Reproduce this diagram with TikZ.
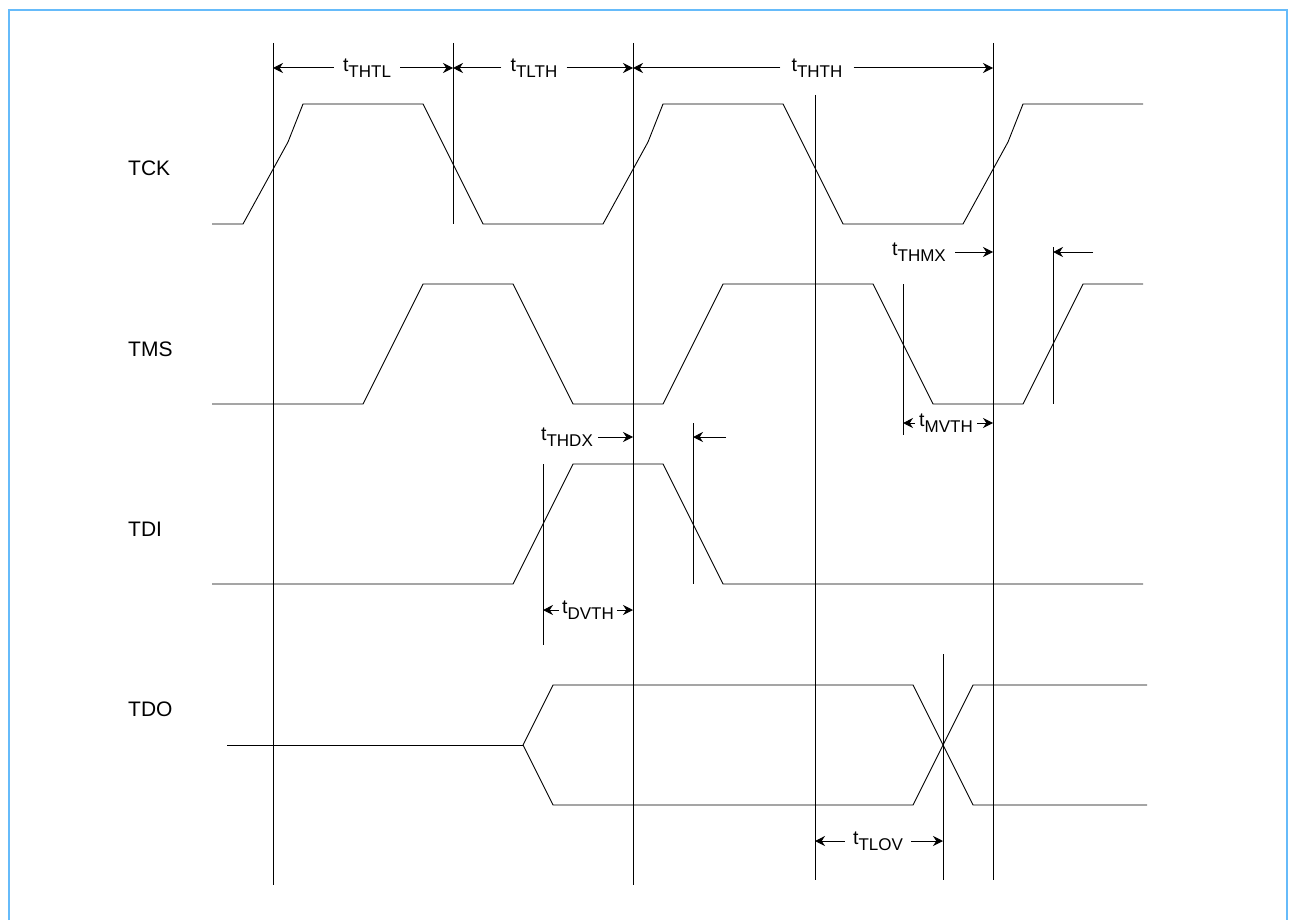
\documentclass[tikz,border=0pt]{standalone}
\usepackage{fontspec}
\setmainfont{Liberation Sans}
\usepackage{xcolor}
\usepackage{tikz}
\usetikzlibrary{arrows.meta, positioning, calc}
\definecolor{FrameBlue}{RGB}{102,187,250}
\newcommand{\tlabel}[1]{t\raisebox{-6pt}{\fontsize{17}{17}\selectfont #1}}

\begin{document}
\begin{tikzpicture}[
        x=1pt, y=-1pt,
        signal/.style={
            line width=0.9pt,
            line join=miter
        },
        marker/.style={
            line width=1pt
        },
        dimline/.style={
            line width=1pt,
            -{Stealth[length=10pt,width=10pt]}
        },
        signame/.style={
            anchor=west,
            inner sep=0pt,
            font=\fontsize{21}{21}\selectfont
        },
        timing/.style={
            inner xsep=9pt,
            inner ysep=0pt,
            font=\fontsize{19.5}{19.5}\selectfont
        }
    ]
    
    \useasboundingbox (0,0) rectangle (1289,920);
    \draw[FrameBlue, line width=2pt] (9,920) -- (9,10) -- (1287,10) -- (1287,920);
    
    \node[signame] (lblTCK) at (128,168) {TCK};
    \node[signame] (lblTMS) at (128,349) {TMS};
    \node[signame] (lblTDI) at (128,529) {TDI};
    \node[signame] (lblTDO) at (128,709) {TDO};
    
    % Waveforms
    \draw[signal] (212,224) -- (243,224) -- (288,142) -- (303,104) -- (423,104) -- (483,224)
        -- (603,224) -- (648,142) -- (663,104) -- (783,104) -- (843,224)
        -- (963,224) -- (1008,142) -- (1023,104) -- (1143,104);
    \draw[signal] (212,404) -- (363,404) -- (423,284) -- (513,284) -- (573,404) -- (663,404)
        -- (723,284) -- (873,284) -- (933,404) -- (1023,404) -- (1083,284) -- (1143,284);
    \draw[signal] (212,584) -- (513,584) -- (573,464) -- (663,464) -- (723,584) -- (1143,584);
    \draw[signal] (227,745) -- (523,745);
    \draw[signal] (523,745) -- (553,685) -- (913,685) -- (973,805) -- (1147,805);
    \draw[signal] (523,745) -- (553,805) -- (913,805) -- (973,685) -- (1147,685);
    
    % Reference lines
    \draw[marker] (273,43) -- (273,885);
    \draw[marker] (453,43) -- (453,224);
    \draw[marker] (633,43) -- (633,885);
    \draw[marker] (993,43) -- (993,880);
    \draw[marker] (815,95) -- (815,880);
    \draw[marker] (903,284) -- (903,435);
    \draw[marker] (1053,247) -- (1053,404);
    \draw[marker] (543,464) -- (543,645);
    \draw[marker] (693,423) -- (693,584);
    \draw[marker] (943,654) -- (943,880);
    
    % Timing labels
    \node[timing] (tTHTL) at (367,68) {\tlabel{THTL}};
    \node[timing] (tTLTH) at (534,68) {\tlabel{TLTH}};
    \node[timing, inner xsep=11pt] (tTHTH) at (817,68) {\tlabel{THTH}};
    \node[timing] (tTHMX) at (919,252) {\tlabel{THMX}};
    \node[timing, inner xsep=4pt] (tMVTH) at (946,423) {\tlabel{MVTH}};
    \node[timing, inner xsep=5pt] (tTHDX) at (567,437) {\tlabel{THDX}};
    \node[timing, inner xsep=3pt] (tDVTH) at (588,610) {\tlabel{DVTH}};
    \node[timing, inner xsep=8pt] (tTLOV) at (878,841) {\tlabel{TLOV}};
    
    \coordinate (clkA) at (273,68);
    \coordinate (clkB) at (453,68);
    \coordinate (clkC) at (633,68);
    \coordinate (clkD) at (993,68);
    \coordinate (hmxEnd) at (993,252);
    \coordinate (hmxTip) at (1053,252);
    \coordinate (hmxTail) at (1093,252);
    \coordinate (mvLeft) at (903,423);
    \coordinate (mvRight) at (993,423);
    \coordinate (hdxEnd) at (633,437);
    \coordinate (hdxTip) at (693,437);
    \coordinate (hdxTail) at (726,437);
    \coordinate (dvLeft) at (543,610);
    \coordinate (dvRight) at (633,610);
    \coordinate (lovLeft) at (815,841);
    \coordinate (lovRight) at (943,841);
    
    % Arrows
    \draw[dimline] (tTHTL) -- (clkA);
    \draw[dimline] (tTHTL) -- (clkB);
    \draw[dimline] (tTLTH) -- (clkB);
    \draw[dimline] (tTLTH) -- (clkC);
    \draw[dimline] (tTHTH) -- (clkC);
    \draw[dimline] (tTHTH) -- (clkD);
    \draw[dimline] (tTHMX) -- (hmxEnd);
    \draw[dimline] (hmxTail) -- (hmxTip);
    \draw[dimline] (tMVTH) -- (mvLeft);
    \draw[dimline] (tMVTH) -- (mvRight);
    \draw[dimline] (tTHDX) -- (hdxEnd);
    \draw[dimline] (hdxTail) -- (hdxTip);
    \draw[dimline] (tDVTH) -- (dvLeft);
    \draw[dimline] (tDVTH) -- (dvRight);
    \draw[dimline] (tTLOV) -- (lovLeft);
    \draw[dimline] (tTLOV) -- (lovRight);
    
\end{tikzpicture}
\end{document}
